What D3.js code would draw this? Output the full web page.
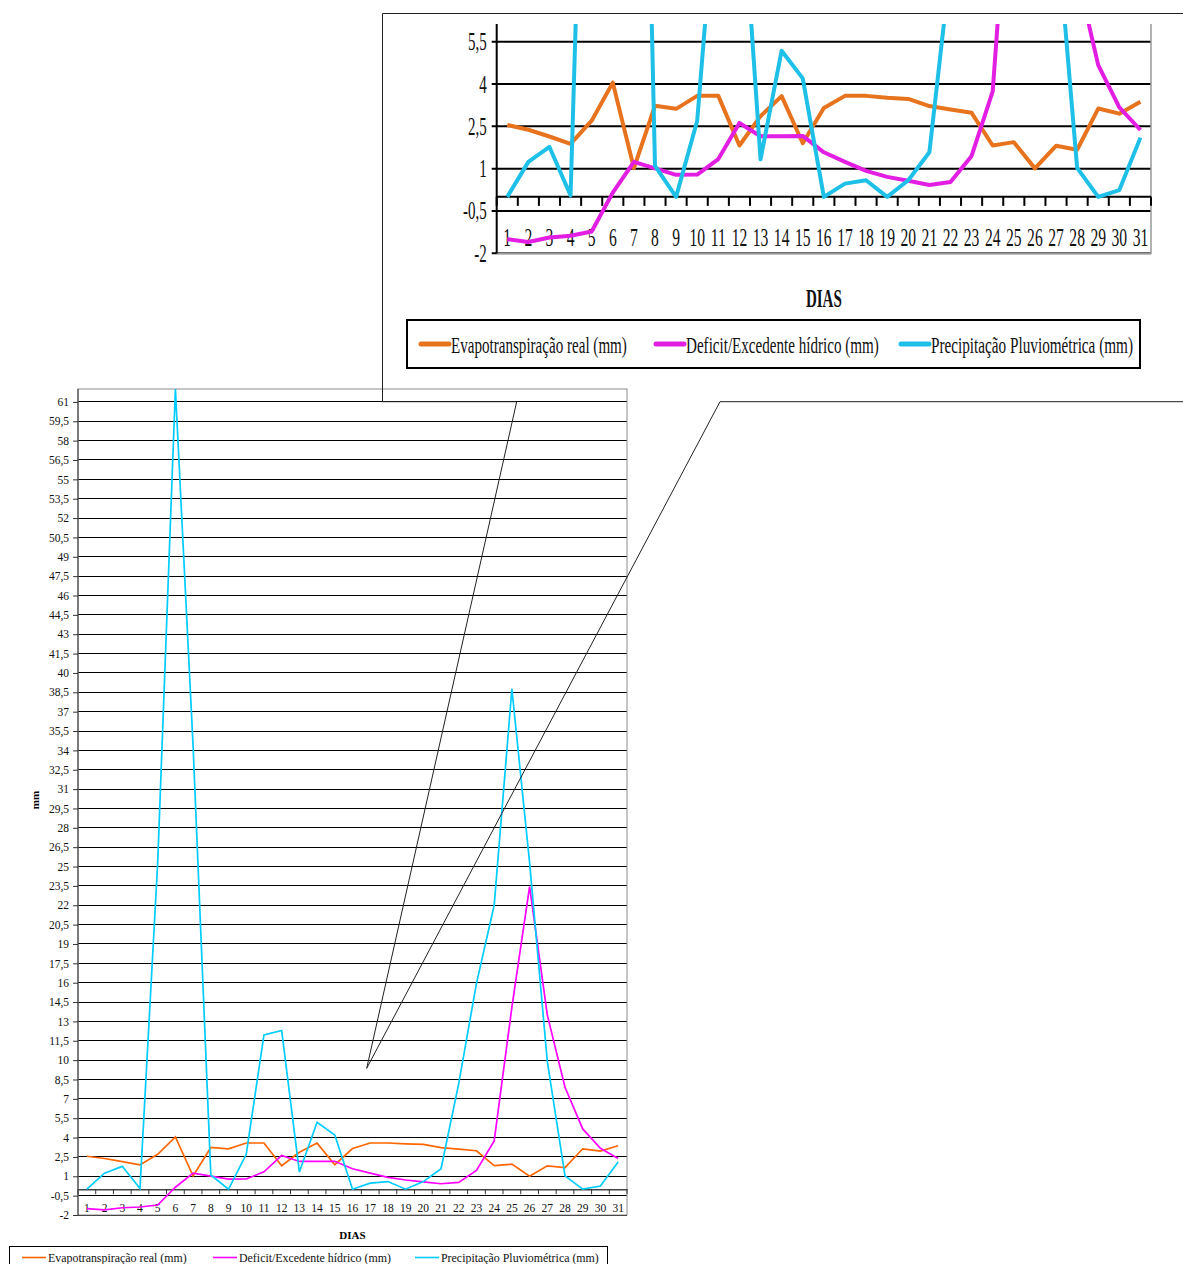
<!DOCTYPE html>
<html>
<head>
<meta charset="utf-8">
<script src="https://cdn.jsdelivr.net/npm/d3@7"></script>
<style>
  body { margin: 0; background: #fff; }
  svg { display: block; }
</style>
</head>
<body>
<svg id="chart" width="1183" height="1264"></svg>
<script>
// Daily water balance for one month (mm)
const days = [1,2,3,4,5,6,7,8,9,10,11,12,13,14,15,16,17,18,19,20,21,22,23,24,25,26,27,28,29,30,31];

const evapotranspiracao = [2.55, 2.38, 2.14, 1.88, 2.7, 4.05, 1.02, 3.23, 3.12, 3.58, 3.58, 1.82, 2.86, 3.57, 1.9,
  3.15, 3.58, 3.58, 3.51, 3.47, 3.22, 3.1, 2.98, 1.82, 1.94, 1.01, 1.81, 1.67, 3.13, 2.95, 3.37];

const deficitExcedente = [-1.5, -1.6, -1.44, -1.38, -1.23, 0.15, 1.24, 1.01, 0.78, 0.79, 1.34, 2.62, 2.15, 2.15, 2.16,
  1.58, 1.24, 0.92, 0.71, 0.57, 0.42, 0.53, 1.45, 3.74, 14.1, 23.45, 13.5, 7.9, 4.67, 3.17, 2.37];

const precipitacao = [0, 1.24, 1.77, 0.05, 25.3, 62, 34.3, 1.1, 0, 2.7, 11.95, 12.3, 1.33, 5.18, 4.2,
  0, 0.47, 0.59, 0, 0.59, 1.58, 8.2, 15.95, 22.0, 38.76, 25.3, 9.9, 1.03, 0, 0.24, 2.1];

const seriesNames = ["Evapotranspiração real (mm)", "Deficit/Excedente hídrico (mm)", "Precipitação Pluviométrica (mm)"];

const mainTicks = [-2, -0.5, 1, 2.5, 4, 5.5, 7, 8.5, 10, 11.5, 13, 14.5, 16, 17.5, 19, 20.5, 22, 23.5, 25, 26.5,
  28, 29.5, 31, 32.5, 34, 35.5, 37, 38.5, 40, 41.5, 43, 44.5, 46, 47.5, 49, 50.5, 52, 53.5, 55, 56.5, 58, 59.5, 61];
const detailTicks = [-2, -0.5, 1, 2.5, 4, 5.5];

const fmt = d => String(d).replace('.', ',');
const serif = "'Liberation Serif', 'Times New Roman', serif";

const series = [
  { name: seriesNames[0], values: evapotranspiracao, color: "#ff6600", detailColor: "#e8731e" },
  { name: seriesNames[1], values: deficitExcedente,  color: "#ff00ff", detailColor: "#e31ee3" },
  { name: seriesNames[2], values: precipitacao,      color: "#00ccff", detailColor: "#1ec0e8" }
];

const svg = d3.select("#chart");

/* ---------------- full-range chart ---------------- */
const M = { left: 78, right: 627, top: 389, bottom: 1215 };
const x = d3.scaleBand().domain(days).range([M.left, M.right]).padding(0);
const y = d3.scaleLinear().domain([-2, 62]).range([M.bottom, M.top]);
const cx = d => x(d) + x.bandwidth() / 2;

const main = svg.append("g").attr("class", "main");

// horizontal gridlines
main.append("g").selectAll("line").data(mainTicks).join("line")
  .attr("x1", M.left).attr("x2", M.right)
  .attr("y1", d => y(d)).attr("y2", d => y(d))
  .attr("stroke", "#000").attr("stroke-width", 1)
  .attr("shape-rendering", "crispEdges");

// plot frame
main.append("rect")
  .attr("x", M.left).attr("y", M.top)
  .attr("width", M.right - M.left).attr("height", M.bottom - M.top)
  .attr("fill", "none").attr("stroke", "#8c8c8c").attr("stroke-width", 1);

// value axis
const yAxis = main.append("g")
  .attr("transform", `translate(${M.left},0)`)
  .call(d3.axisLeft(y).tickValues(mainTicks).tickSize(5).tickPadding(4).tickFormat(fmt).tickSizeOuter(0));
yAxis.select(".domain").attr("stroke", "#333").attr("d", `M0,${M.top}V${M.bottom}`);
yAxis.selectAll(".tick line").attr("stroke", "#333");
yAxis.selectAll("text").attr("font-family", serif).attr("font-size", 11.5).attr("fill", "#111");

// category axis crossing at zero, labels placed at the bottom of the plot
const xAxis = main.append("g")
  .attr("transform", `translate(0,${y(0)})`)
  .call(d3.axisBottom(x).tickSize(0).tickPadding(15).tickSizeOuter(0));
xAxis.select(".domain").attr("stroke", "#444").attr("stroke-width", 1.4);
xAxis.selectAll("text").attr("font-family", serif).attr("font-size", 11.5).attr("fill", "#111");

// tick marks between categories
const bounds = days.map(d => x(d)).concat([M.right]);
main.append("g").selectAll("line").data(bounds).join("line")
  .attr("x1", d => d).attr("x2", d => d)
  .attr("y1", y(0)).attr("y2", y(0) + 5)
  .attr("stroke", "#333").attr("stroke-width", 1);

// series
const lineMain = d3.line().x((v, i) => cx(days[i])).y(v => y(v));
main.append("g").selectAll("path").data(series).join("path")
  .attr("d", s => lineMain(s.values))
  .attr("fill", "none")
  .attr("stroke", s => s.color)
  .attr("stroke-width", 1.7)
  .attr("stroke-linejoin", "miter");

// axis titles
main.append("text")
  .attr("x", (M.left + M.right) / 2).attr("y", 1239)
  .attr("text-anchor", "middle")
  .attr("font-family", serif).attr("font-size", 11).attr("font-weight", "bold")
  .text("DIAS");
main.append("text")
  .attr("transform", "translate(39,800) rotate(-90)")
  .attr("text-anchor", "middle")
  .attr("font-family", serif).attr("font-size", 11).attr("font-weight", "bold")
  .text("mm");

// legend
const legMain = main.append("g");
legMain.append("rect")
  .attr("x", 9.5).attr("y", 1246.5).attr("width", 598).attr("height", 30)
  .attr("fill", "none").attr("stroke", "#000").attr("stroke-width", 1);
const legMainX = [22, 213, 415];
series.forEach((s, i) => {
  legMain.append("line")
    .attr("x1", legMainX[i]).attr("x2", legMainX[i] + 24)
    .attr("y1", 1257.5).attr("y2", 1257.5)
    .attr("stroke", s.color).attr("stroke-width", 1.6);
  legMain.append("text")
    .attr("x", legMainX[i] + 26).attr("y", 1261.5)
    .attr("font-family", serif).attr("font-size", 11.9).attr("fill", "#111")
    .text(s.name);
});

/* ---------------- detail view of the low range ---------------- */
const D = { left: 496.7, right: 1151, top: 24, bottom: 253.3 };
const xd = d3.scaleBand().domain(days).range([D.left, D.right]).padding(0);
const yd = d3.scaleLinear().domain([-2, 5.5]).range([D.bottom, 41.7]);
const cxd = d => xd(d) + xd.bandwidth() / 2;
const SX = 0.6; // condensed lettering of the detail view

const det = svg.append("g").attr("class", "detail");

svg.append("defs").append("clipPath").attr("id", "detailClip")
  .append("rect").attr("x", D.left).attr("y", D.top)
  .attr("width", D.right - D.left).attr("height", D.bottom - D.top + 10);

det.append("g").selectAll("line").data(detailTicks).join("line")
  .attr("x1", D.left - 5).attr("x2", D.right)
  .attr("y1", d => yd(d)).attr("y2", d => yd(d))
  .attr("stroke", "#000").attr("stroke-width", 2);

// right and bottom frame
det.append("path")
  .attr("d", `M${D.right},${D.top}V${D.bottom}H${D.left}`)
  .attr("fill", "none").attr("stroke", "#999").attr("stroke-width", 1.5);

// left axis
det.append("line")
  .attr("x1", D.left).attr("x2", D.left).attr("y1", D.top).attr("y2", D.bottom)
  .attr("stroke", "#000").attr("stroke-width", 2);

// zero axis with tick marks
det.append("line")
  .attr("x1", D.left).attr("x2", D.right).attr("y1", yd(0)).attr("y2", yd(0))
  .attr("stroke", "#000").attr("stroke-width", 2);
const boundsD = days.map(d => xd(d)).concat([D.right]);
det.append("g").selectAll("line").data(boundsD).join("line")
  .attr("x1", d => d).attr("x2", d => d)
  .attr("y1", yd(0)).attr("y2", yd(0) + 9)
  .attr("stroke", "#000").attr("stroke-width", 2);

// value labels
det.append("g").selectAll("text").data(detailTicks).join("text")
  .attr("transform", d => `translate(${D.left - 10},${yd(d)}) scale(${SX},1)`)
  .attr("dy", "0.34em")
  .attr("text-anchor", "end")
  .attr("font-family", serif).attr("font-size", 25).attr("fill", "#111")
  .text(fmt);

// category labels
det.append("g").selectAll("text").data(days).join("text")
  .attr("transform", d => `translate(${cxd(d)},246) scale(${SX},1)`)
  .attr("text-anchor", "middle")
  .attr("font-family", serif).attr("font-size", 26).attr("fill", "#111")
  .text(d => d);

// series
const lineDet = d3.line().x((v, i) => cxd(days[i])).y(v => yd(v));
det.append("g").attr("clip-path", "url(#detailClip)")
  .selectAll("path").data(series).join("path")
  .attr("d", s => lineDet(s.values))
  .attr("fill", "none")
  .attr("stroke", s => s.detailColor)
  .attr("stroke-width", 4)
  .attr("stroke-linejoin", "round");

// title
det.append("text")
  .attr("transform", `translate(${(D.left + D.right) / 2},307) scale(${SX},1)`)
  .attr("text-anchor", "middle")
  .attr("font-family", serif).attr("font-size", 25).attr("font-weight", "bold").attr("fill", "#111")
  .text("DIAS");

// legend: labels are condensed horizontally to a fixed width
det.append("rect")
  .attr("x", 407).attr("y", 320).attr("width", 733).attr("height", 48)
  .attr("fill", "none").attr("stroke", "#000").attr("stroke-width", 2);
const legDetX = [421, 656, 901];
const legDetW = [176, 193, 202];
series.forEach((s, i) => {
  det.append("line")
    .attr("x1", legDetX[i]).attr("x2", legDetX[i] + 28)
    .attr("y1", 344).attr("y2", 344)
    .attr("stroke", s.detailColor).attr("stroke-width", 5).attr("stroke-linecap", "round");
  const t = det.append("text")
    .attr("font-family", serif).attr("font-size", 23).attr("fill", "#111")
    .text(s.name);
  const natural = t.node().getComputedTextLength();
  t.attr("transform", `translate(${legDetX[i] + 30},353) scale(${legDetW[i] / natural},1)`);
});

// callout frame linking the detail view to the low range of the full chart
const tip = [366.7, 1068.3];
svg.append("path")
  .attr("d", `M1190,13.5H382.5V401.7H516.7L${tip[0]},${tip[1]}L720,401.7H1190`)
  .attr("fill", "none").attr("stroke", "#222").attr("stroke-width", 1);
</script>
</body>
</html>
